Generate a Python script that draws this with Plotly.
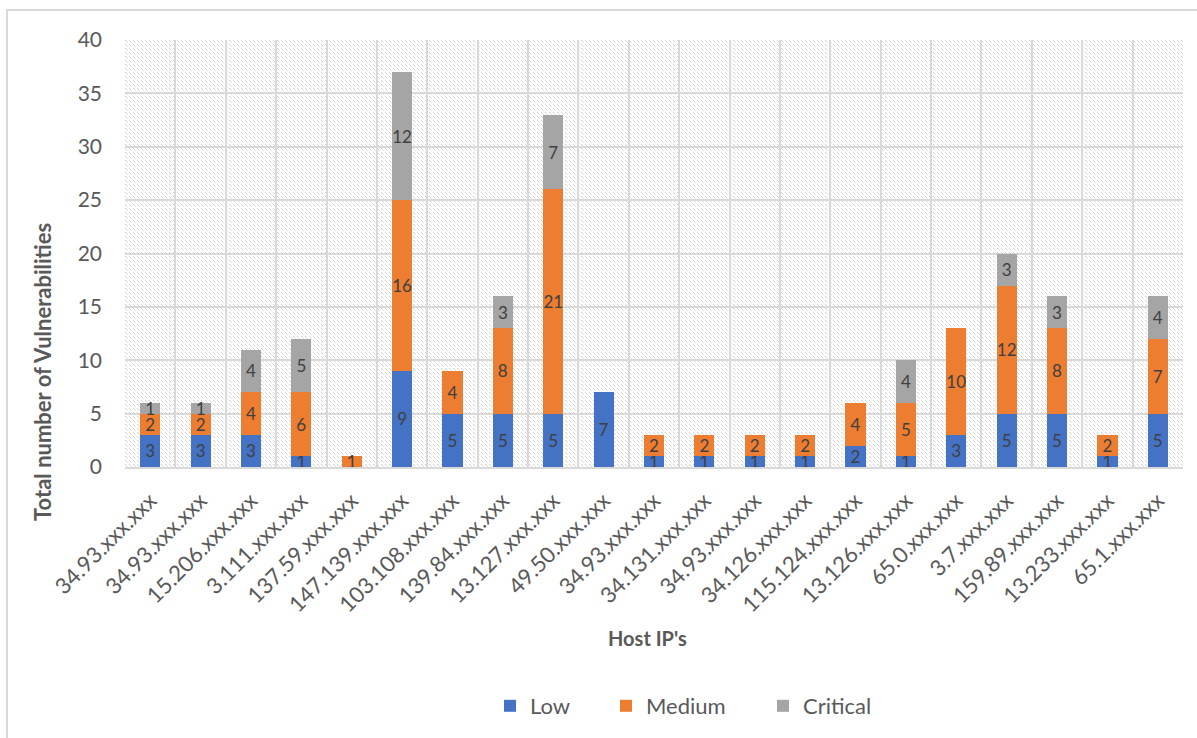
import base64
import plotly.graph_objects as go

# Host IPs (masked) and vulnerability counts per severity
hosts = [
    "34.93.xxx.xxx", "34.93.xxx.xxx", "15.206.xxx.xxx", "3.111.xxx.xxx",
    "137.59.xxx.xxx", "147.139.xxx.xxx", "103.108.xxx.xxx", "139.84.xxx.xxx",
    "13.127.xxx.xxx", "49.50.xxx.xxx", "34.93.xxx.xxx", "34.131.xxx.xxx",
    "34.93.xxx.xxx", "34.126.xxx.xxx", "115.124.xxx.xxx", "13.126.xxx.xxx",
    "65.0.xxx.xxx", "3.7.xxx.xxx", "159.89.xxx.xxx", "13.233.xxx.xxx",
    "65.1.xxx.xxx",
]
low = [3, 3, 3, 1, 0, 9, 5, 5, 5, 7, 1, 1, 1, 1, 2, 1, 3, 5, 5, 1, 5]
medium = [2, 2, 4, 6, 1, 16, 4, 8, 21, 0, 2, 2, 2, 2, 4, 5, 10, 12, 8, 2, 7]
critical = [1, 1, 4, 5, 0, 12, 0, 3, 7, 0, 0, 0, 0, 0, 0, 4, 0, 3, 3, 0, 4]

y_ticks = [0, 5, 10, 15, 20, 25, 30, 35, 40]

FONT = "Lato"
GREY_TXT = "#595959"
GRID = "#d9d9d9"

# page geometry (pixels)
W, H = 1197, 738
L, R, T, B = 125, 14, 40, 271
PW, PH = W - L - R, H - T - B


def px(x):
    return (x - L) / PW


def py(y):
    return (H - B - y) / PH


x_pos = list(range(len(hosts)))

series = [
    ("Low", low, "#4472C4", "legend"),
    ("Medium", medium, "#ED7D31", "legend2"),
    ("Critical", critical, "#A5A5A5", "legend3"),
]

fig = go.Figure()
for name, vals, color, leg in series:
    fig.add_trace(go.Bar(
        x=x_pos, y=vals, name=name, legend=leg,
        width=0.4,
        marker=dict(color=color, line=dict(width=0)),
        text=[str(v) if v else "" for v in vals],
        textposition="inside", insidetextanchor="middle",
        textangle=0, constraintext="none",
        textfont=dict(family=FONT, size=17, color="#404040"),
    ))

# light dotted diagonal texture for the plot area
tile = (
    '<pattern id="p" width="4" height="4" patternUnits="userSpaceOnUse">'
    '<rect x="0" y="0" width="1" height="1" fill="#cfcfcf"/>'
    '<rect x="1" y="1" width="1" height="1" fill="#d6d6d6"/>'
    '<rect x="2" y="2" width="1" height="1" fill="#e8e8e8"/>'
    '</pattern>'
)
svg = (
    f'<svg xmlns="http://www.w3.org/2000/svg" width="{PW}" height="{PH}" '
    f'viewBox="0 0 {PW} {PH}"><defs>{tile}</defs>'
    f'<rect width="{PW}" height="{PH}" fill="#ffffff"/>'
    f'<rect width="{PW}" height="{PH}" fill="url(#p)"/></svg>'
)
bg_uri = "data:image/svg+xml;base64," + base64.b64encode(svg.encode()).decode()

boundaries = [i - 0.5 for i in range(len(hosts) + 1)]

leg_common = dict(
    orientation="h", yanchor="middle", xanchor="left", y=py(706),
    font=dict(family=FONT, size=22, color=GREY_TXT),
    bgcolor="rgba(0,0,0,0)", borderwidth=0,
)

fig.update_layout(
    width=W, height=H,
    margin=dict(l=L, r=R, t=T, b=B, autoexpand=False),
    barmode="stack",
    paper_bgcolor="white", plot_bgcolor="white",
    font=dict(family=FONT, color=GREY_TXT),
    showlegend=True,
    legend=dict(x=px(490), **leg_common),
    legend2=dict(x=px(606), **leg_common),
    legend3=dict(x=px(763), **leg_common),
    xaxis=dict(
        range=[-0.5, len(hosts) - 0.5],
        tickmode="array", tickvals=x_pos, ticktext=hosts,
        tickangle=-45, tickfont=dict(family=FONT, size=22, color=GREY_TXT),
        ticks="", ticklabelstandoff=10, showgrid=False, zeroline=False,
        showline=True, linecolor=GRID, linewidth=2,
        minor=dict(tickmode="array", tickvals=boundaries, showgrid=True,
                   gridcolor=GRID, gridwidth=2, ticks=""),
        automargin=False, fixedrange=True,
    ),
    yaxis=dict(
        range=[0, 40], tickmode="array", tickvals=y_ticks,
        tickfont=dict(family=FONT, size=21, color=GREY_TXT),
        showgrid=True, gridcolor=GRID, gridwidth=2, zeroline=False,
        ticks="", ticklabelstandoff=22, showline=False,
        automargin=False, fixedrange=True,
    ),
    images=[dict(
        source=bg_uri, xref="paper", yref="paper", x=0, y=1,
        sizex=1, sizey=1, xanchor="left", yanchor="top",
        sizing="stretch", layer="below",
    )],
    shapes=[dict(
        type="rect", xref="paper", yref="paper",
        x0=px(7), x1=px(W + 20), y0=py(H + 20), y1=py(10),
        line=dict(color=GRID, width=2), fillcolor="rgba(0,0,0,0)",
        layer="below",
    )],
    annotations=[
        dict(text="<b>Total number of Vulnerabilities</b>", textangle=-90,
             xref="paper", yref="paper", x=px(42), y=py(372),
             xanchor="center", yanchor="middle", showarrow=False,
             font=dict(family=FONT, size=22, color=GREY_TXT)),
        dict(text="<b>Host IP's</b>",
             xref="paper", yref="paper", x=px(647), y=py(638),
             xanchor="center", yanchor="middle", showarrow=False,
             font=dict(family=FONT, size=20, color=GREY_TXT)),
    ],
)

fig.write_html("out.html")
